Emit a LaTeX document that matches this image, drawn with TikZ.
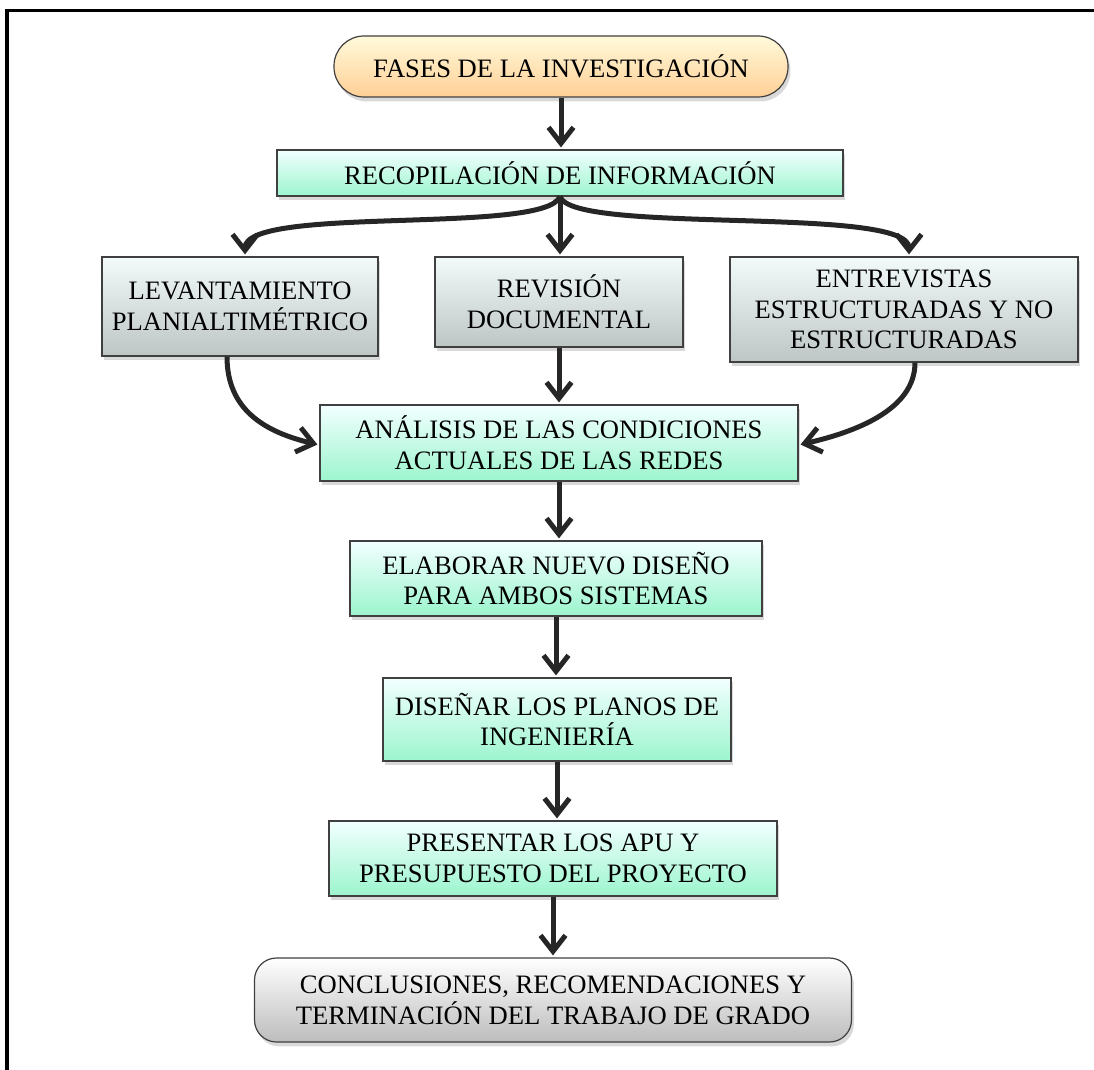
\documentclass[tikz,border=0pt]{standalone}
\usepackage{fontspec}
\setmainfont{Liberation Serif}
\usetikzlibrary{arrows.meta,shadows,positioning}

\definecolor{boxline}{HTML}{404040}
\definecolor{flowgray}{HTML}{262626}
\definecolor{sandtop}{HTML}{FFFADA}
\definecolor{sandmid}{HTML}{FFEBB8}
\definecolor{sandbot}{HTML}{FFCF96}
\definecolor{mintop}{HTML}{F2FFFF}
\definecolor{minmid}{HTML}{CCFFFF}
\definecolor{minbot}{HTML}{9CF5CE}
\definecolor{steeltop}{HTML}{F2FAFA}
\definecolor{steelmid}{HTML}{DDEFEF}
\definecolor{steelbot}{HTML}{BEC5C5}

\begin{document}
\begin{tikzpicture}[x=0.5pt,y=-0.5pt,>={Straight Barb[length=8pt,width=12.5pt]},
    box/.style={draw=boxline,line width=0.6pt,align=center,inner sep=2pt,
        font=\fontsize{13.3}{15.4}\selectfont,
        drop shadow={shadow xshift=1.2pt,shadow yshift=-2.2pt,opacity=0.3}},
    startbox/.style={box,rounded corners=15pt,top color=sandtop,middle color=sandmid,bottom color=sandbot},
    greenbox/.style={box,top color=mintop,middle color=minmid,bottom color=minbot},
    graybox/.style={box,top color=steeltop,middle color=steelmid,bottom color=steelbot},
    endbox/.style={box,rounded corners=11pt,top color=white,bottom color=gray!52},
    flow/.style={->,line width=2.5pt,draw=flowgray,shorten >=1pt}]
    \useasboundingbox (0,0) rectangle (1094,1070);
    \draw[line width=1.8pt] (7,1070) -- (7,10.5) -- (1094,10.5);

    \node[startbox,minimum width=227pt,minimum height=30.5pt] (fases) at (561,66.5) {FASES DE LA INVESTIGACIÓN};
    \node[greenbox,minimum width=283pt,minimum height=23pt] (recop) at (560,173) {RECOPILACIÓN DE INFORMACIÓN};
    \node[graybox,minimum width=138pt,minimum height=49.5pt] (lev) at (240,306.5) {LEVANTAMIENTO\\PLANIALTIMÉTRICO};
    \node[graybox,minimum width=124pt,minimum height=45pt] (rev) at (559,302) {REVISIÓN\\DOCUMENTAL};
    \node[graybox,minimum width=174pt,minimum height=52.5pt] (ent) at (904,309.5) {ENTREVISTAS\\ESTRUCTURADAS Y NO\\ESTRUCTURADAS};
    \node[greenbox,minimum width=239pt,minimum height=38pt] (anal) at (559,443) {ANÁLISIS DE LAS CONDICIONES\\ACTUALES DE LAS REDES};
    \node[greenbox,minimum width=206pt,minimum height=37.5pt] (elab) at (556,578.5) {ELABORAR NUEVO DISEÑO\\PARA AMBOS SISTEMAS};
    \node[greenbox,minimum width=174pt,minimum height=41.5pt] (dis) at (557,719.5) {DISEÑAR LOS PLANOS DE\\INGENIERÍA};
    \node[greenbox,minimum width=224pt,minimum height=37.5pt] (pres) at (553,858.5) {PRESENTAR LOS APU Y\\PRESUPUESTO DEL PROYECTO};
    \node[endbox,minimum width=298.5pt,minimum height=42pt] (concl) at (553,1000) {CONCLUSIONES, RECOMENDACIONES Y\\TERMINACIÓN DEL TRABAJO DE GRADO};

    % branching
    \draw[flow] (recop.south) .. controls (545,235) and (245,205) .. ([xshift=2.5pt]lev.north);
    \draw[flow] (recop.south) -- (recop.south |- rev.north);
    \draw[flow] (recop.south) .. controls (573,235) and (909,205) .. ([xshift=2.5pt]ent.north);

    % joining
    \draw[flow] ([xshift=-6.5pt]lev.south) .. controls (227,410) and (265,432) .. ([yshift=-1pt]anal.west);
    \draw[flow] (rev.south) -- (rev.south |- anal.north);
    \draw[flow] ([xshift=5.5pt]ent.south) .. controls (915,410) and (855,432) .. ([yshift=-1pt]anal.east);

    % main chain
    \draw[flow] (fases.south) -- (fases.south |- recop.north);
    \draw[flow] (anal.south) -- (anal.south |- elab.north);
    \draw[flow] (elab.south) -- (elab.south |- dis.north);
    \draw[flow] (dis.south) -- (dis.south |- pres.north);
    \draw[flow] (pres.south) -- (pres.south |- concl.north);
\end{tikzpicture}
\end{document}
